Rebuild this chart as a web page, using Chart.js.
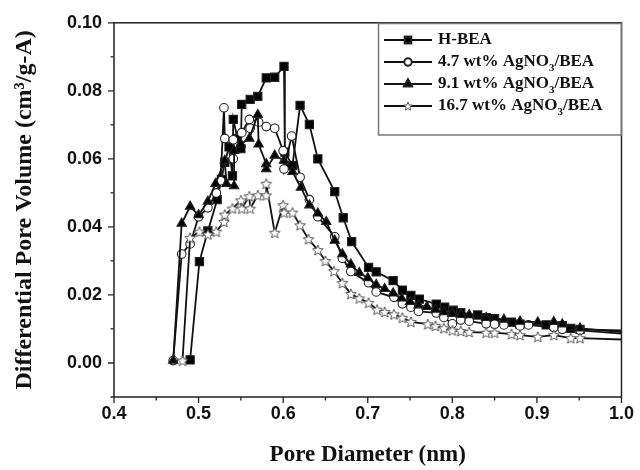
<!DOCTYPE html>
<html>
<head>
<meta charset="utf-8">
<script src="https://cdn.jsdelivr.net/npm/chart.js@4.4.1/dist/chart.umd.min.js"></script>
<style>
  html, body { margin: 0; padding: 0; background: #fff; }
  #wrap { width: 640px; height: 470px; }
</style>
</head>
<body>
<div id="wrap"><canvas id="poreChart" width="640" height="470"></canvas></div>
<script>
// pore size distribution
const hbeaX = [0.490, 0.501, 0.511, 0.522, 0.527, 0.531, 0.536, 0.540, 0.541, 0.546, 0.550, 0.551, 0.561, 0.570, 0.580, 0.590, 0.601, 0.602, 0.611, 0.620, 0.631, 0.641, 0.661, 0.671, 0.681, 0.701, 0.710, 0.730, 0.741, 0.751, 0.761, 0.781, 0.791, 0.801, 0.810, 0.830, 0.840, 0.850, 0.870, 0.880, 0.911, 0.930, 0.940, 0.951, 1.0];
const hbeaY = [0.0009, 0.0298, 0.0388, 0.048, 0.054, 0.059, 0.0635, 0.055, 0.0716, 0.066, 0.063, 0.076, 0.0775, 0.0784, 0.0838, 0.084, 0.0872, 0.062, 0.058, 0.0757, 0.0701, 0.060, 0.0504, 0.0427, 0.0357, 0.0281, 0.0268, 0.0242, 0.0214, 0.0199, 0.0188, 0.0173, 0.0164, 0.0155, 0.0148, 0.0141, 0.0133, 0.013, 0.012, 0.0114, 0.0112, 0.011, 0.0102, 0.0099, 0.0096];

const ag47X = [0.470, 0.480, 0.490, 0.500, 0.511, 0.521, 0.526, 0.530, 0.531, 0.541, 0.541, 0.551, 0.560, 0.561, 0.571, 0.580, 0.590, 0.600, 0.601, 0.610, 0.620, 0.631, 0.641, 0.661, 0.670, 0.680, 0.701, 0.710, 0.731, 0.741, 0.751, 0.760, 0.781, 0.790, 0.800, 0.810, 0.820, 0.840, 0.850, 0.861, 0.880, 0.890, 0.920, 0.930, 0.951, 1.0];
const ag47Y = [0.0007, 0.032, 0.035, 0.043, 0.0456, 0.050, 0.0536, 0.075, 0.066, 0.0656, 0.060, 0.0677, 0.0716, 0.069, 0.0708, 0.0695, 0.069, 0.0624, 0.057, 0.0667, 0.0546, 0.048, 0.043, 0.0371, 0.0308, 0.0269, 0.0236, 0.0209, 0.0193, 0.0174, 0.0164, 0.0152, 0.0147, 0.0134, 0.0115, 0.0126, 0.0123, 0.0115, 0.0114, 0.0112, 0.0109, 0.0112, 0.0104, 0.0099, 0.0096, 0.0086];

const ag91X = [0.470, 0.480, 0.490, 0.500, 0.511, 0.520, 0.531, 0.533, 0.542, 0.542, 0.550, 0.560, 0.570, 0.571, 0.580, 0.580, 0.590, 0.601, 0.611, 0.621, 0.631, 0.641, 0.651, 0.661, 0.670, 0.680, 0.690, 0.700, 0.710, 0.720, 0.730, 0.740, 0.750, 0.760, 0.770, 0.780, 0.790, 0.800, 0.810, 0.820, 0.840, 0.861, 0.880, 0.901, 0.920, 0.930, 0.951, 1.0];
const ag91Y = [0.0007, 0.041, 0.046, 0.0435, 0.0475, 0.0527, 0.0595, 0.0527, 0.052, 0.0624, 0.0643, 0.066, 0.073, 0.0643, 0.0585, 0.057, 0.061, 0.0595, 0.0562, 0.0516, 0.0464, 0.044, 0.0415, 0.036, 0.032, 0.029, 0.0265, 0.025, 0.023, 0.0218, 0.0205, 0.019, 0.018, 0.017, 0.0165, 0.0157, 0.015, 0.0145, 0.0142, 0.0141, 0.0133, 0.0128, 0.0122, 0.012, 0.0121, 0.0114, 0.0102, 0.0091];

const ag167X = [0.481, 0.490, 0.501, 0.511, 0.521, 0.530, 0.531, 0.540, 0.550, 0.551, 0.560, 0.561, 0.570, 0.580, 0.580, 0.590, 0.600, 0.601, 0.611, 0.620, 0.630, 0.641, 0.650, 0.660, 0.670, 0.680, 0.690, 0.701, 0.711, 0.720, 0.731, 0.741, 0.751, 0.771, 0.780, 0.790, 0.800, 0.810, 0.820, 0.840, 0.850, 0.870, 0.880, 0.901, 0.920, 0.940, 0.951, 1.0];
const ag167Y = [0.0007, 0.0368, 0.0386, 0.0378, 0.0386, 0.0415, 0.0436, 0.0454, 0.0478, 0.0454, 0.049, 0.0454, 0.0493, 0.0493, 0.0527, 0.0383, 0.0464, 0.0442, 0.0442, 0.0405, 0.0364, 0.0332, 0.030, 0.027, 0.0235, 0.0203, 0.019, 0.0177, 0.0157, 0.015, 0.0143, 0.0133, 0.0121, 0.0114, 0.0109, 0.0102, 0.0096, 0.0094, 0.0091, 0.0089, 0.0089, 0.0085, 0.0082, 0.0077, 0.0082, 0.0073, 0.0073, 0.0069];

const seriesNames = ['H-BEA', '4.7 wt% AgNO3/BEA', '9.1 wt% AgNO3/BEA', '16.7 wt% AgNO3/BEA'];

const xTicks = [0.4, 0.5, 0.6, 0.7, 0.8, 0.9, 1.0];
const xMinorTicks = [0.45, 0.55, 0.65, 0.75, 0.85, 0.95];
const yTicks = [0.00, 0.02, 0.04, 0.06, 0.08, 0.10];
const yMinorTicks = [-0.01, 0.01, 0.03, 0.05, 0.07, 0.09];

function makeStar(size, outer, lw) {
    const c = document.createElement('canvas');
    c.width = size;
    c.height = size;
    const g = c.getContext('2d');
    const cx = size / 2, cy = size / 2 + 0.5;
    g.beginPath();
    for (let i = 0; i < 10; i++) {
        const r = i % 2 ? outer * 0.45 : outer;
        const a = -Math.PI / 2 + i * Math.PI / 5;
        const px = cx + r * Math.cos(a), py = cy + r * Math.sin(a);
        if (i === 0) g.moveTo(px, py); else g.lineTo(px, py);
    }
    g.closePath();
    g.fillStyle = '#fff';
    g.fill();
    g.strokeStyle = '#555';
    g.lineWidth = lw;
    g.stroke();
    return c;
}

const starImg = makeStar(14, 5.6, 1);
const starLegend = makeStar(12, 4.4, 1);

function toPoints(xs, ys) {
    return xs.map((x, i) => ({ x: x, y: ys[i] }));
}

// no marker on the tail that runs out to the frame
const markerSize = (r) => (ctx) => (ctx.raw && ctx.raw.x > 0.97 ? 0 : r);

function makeDataset(label, xs, ys, style, radius, bg, order) {
    return {
        label: label,
        data: toPoints(xs, ys),
        showLine: true,
        borderColor: '#111',
        borderWidth: 1.8,
        tension: 0,
        pointStyle: style,
        pointRadius: markerSize(radius),
        pointBackgroundColor: bg,
        pointBorderColor: '#222',
        pointBorderWidth: 1.1,
        order: order
    };
}

const frameAndLegend = {
    id: 'frameAndLegend',
    afterDraw(chart) {
        const ctx = chart.ctx;
        const area = chart.chartArea;
        const xs = chart.scales.x, ys = chart.scales.y;
        ctx.save();
        ctx.strokeStyle = '#222';
        ctx.lineWidth = 1.5;
        ctx.strokeRect(area.left, area.top, area.right - area.left, area.bottom - area.top);

        // ticks point outward on the left and bottom axes
        ctx.lineWidth = 1.3;
        ctx.beginPath();
        yTicks.forEach(v => { const p = ys.getPixelForValue(v); ctx.moveTo(area.left, p); ctx.lineTo(area.left - 6, p); });
        yMinorTicks.forEach(v => { const p = ys.getPixelForValue(v); ctx.moveTo(area.left, p); ctx.lineTo(area.left - 3.5, p); });
        xTicks.forEach(v => { const p = xs.getPixelForValue(v); ctx.moveTo(p, area.bottom); ctx.lineTo(p, area.bottom + 6); });
        xMinorTicks.forEach(v => { const p = xs.getPixelForValue(v); ctx.moveTo(p, area.bottom); ctx.lineTo(p, area.bottom + 3.5); });
        ctx.stroke();

        // legend box
        const bx = 378.5, by = 23.5, bw = 243, bh = 111.5;
        ctx.strokeStyle = '#777';
        ctx.lineWidth = 1.5;
        ctx.strokeRect(bx, by, bw, bh);
        const rowY = [40, 62, 84, 106];
        chart.data.datasets.forEach((ds, i) => {
            const y = rowY[i];
            ctx.strokeStyle = '#111';
            ctx.lineWidth = 1.8;
            ctx.beginPath();
            ctx.moveTo(384, y);
            ctx.lineTo(432, y);
            ctx.stroke();
            const style = ds.pointStyle === starImg ? starLegend : ds.pointStyle;
            Chart.helpers.drawPoint(ctx, {
                pointStyle: style,
                radius: ds.pointStyle === 'rect' ? 4.6 : (ds.pointStyle === 'triangle' ? 4.6 : 3.6),
                borderWidth: 1,
                rotation: 0
            }, 408, y);
            ctx.fillStyle = ds.pointBackgroundColor;
            ctx.strokeStyle = '#222';
            if (typeof style === 'string') {
                ctx.fill();
                ctx.stroke();
            }
            drawLabel(ctx, seriesNames[i], 438, y);
        });
        ctx.restore();
    }
};

function drawLabel(ctx, text, x, y) {
    const big = 'bold 17px "Liberation Serif", "Times New Roman", serif';
    const small = 'bold 11px "Liberation Serif", "Times New Roman", serif';
    ctx.fillStyle = '#111';
    ctx.textBaseline = 'middle';
    ctx.textAlign = 'left';
    const k = text.indexOf('NO3');
    if (k < 0) {
        ctx.font = big;
        ctx.fillText(text, x, y);
        return;
    }
    const head = text.slice(0, k + 2), tail = text.slice(k + 3);
    ctx.font = big;
    ctx.fillText(head, x, y);
    let cx = x + ctx.measureText(head).width;
    ctx.font = small;
    ctx.fillText('3', cx, y + 6);
    cx += ctx.measureText('3').width;
    ctx.font = big;
    ctx.fillText(tail, cx, y);
}

const ctx = document.getElementById('poreChart').getContext('2d');
new Chart(ctx, {
    type: 'scatter',
    data: {
        datasets: [
            makeDataset(seriesNames[0], hbeaX, hbeaY, 'rect', 5.8, '#000', 4),
            makeDataset(seriesNames[1], ag47X, ag47Y, 'circle', 4.3, '#fff', 3),
            makeDataset(seriesNames[2], ag91X, ag91Y, 'triangle', 5.4, '#000', 2),
            makeDataset(seriesNames[3], ag167X, ag167Y, starImg, 5, '#fff', 1)
        ]
    },
    options: {
        responsive: false,
        animation: false,
        layout: { padding: { top: 19, right: 16, left: 0, bottom: 0 } },
        plugins: {
            legend: { display: false },
            tooltip: { enabled: false }
        },
        scales: {
            x: {
                type: 'linear',
                min: 0.4,
                max: 1.0,
                afterBuildTicks: (scale) => { scale.ticks = xTicks.map(v => ({ value: v })); },
                afterFit: (scale) => { scale.height = 73; },
                grid: { display: false, drawTicks: false },
                border: { display: false },
                ticks: {
                    autoSkip: false,
                    maxRotation: 0,
                    padding: 6,
                    color: '#111',
                    font: { family: '"Liberation Sans", Arial, sans-serif', weight: 'bold', size: 18 },
                    callback: (v) => Number(v).toFixed(1)
                },
                title: {
                    display: true,
                    text: 'Pore Diameter (nm)',
                    color: '#111',
                    padding: { top: 0, bottom: 1 },
                    font: { family: '"Liberation Serif", "Times New Roman", serif', weight: 'bold', size: 23 }
                }
            },
            y: {
                type: 'linear',
                min: -0.01,
                max: 0.10,
                afterBuildTicks: (scale) => { scale.ticks = yTicks.map(v => ({ value: v })); },
                afterFit: (scale) => { scale.width = 114; },
                grid: { display: false, drawTicks: false },
                border: { display: false },
                ticks: {
                    autoSkip: false,
                    padding: 12,
                    color: '#111',
                    font: { family: '"Liberation Sans", Arial, sans-serif', weight: 'bold', size: 18 },
                    callback: (v) => Number(v).toFixed(2)
                },
                title: {
                    display: true,
                    text: 'Differential Pore Volume (cm³/g-A)',
                    color: '#111',
                    padding: { top: 10, bottom: 0 },
                    font: { family: '"Liberation Serif", "Times New Roman", serif', weight: 'bold', size: 24 }
                }
            }
        }
    },
    plugins: [frameAndLegend]
});
</script>
</body>
</html>
